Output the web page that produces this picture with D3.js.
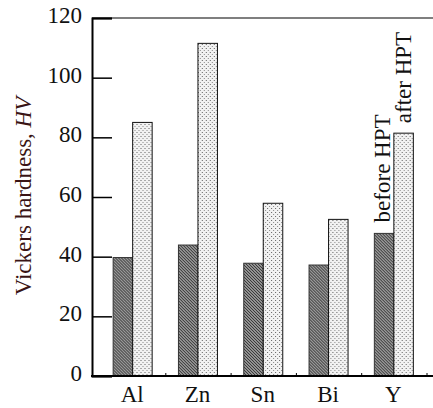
<!DOCTYPE html>
<html>
<head>
<meta charset="utf-8">
<script src="https://cdn.jsdelivr.net/npm/d3@7"></script>
<style>
  body { margin: 0; background: #fff; }
</style>
</head>
<body>
<div id="chart"></div>
<script>
const metals = ["Al", "Zn", "Sn", "Bi", "Y"];
const beforeHPT = [39.7, 43.9, 37.8, 37.2, 47.8];
const afterHPT = [85.0, 111.5, 57.9, 52.5, 81.4];
const yTicks = [0, 20, 40, 60, 80, 100, 120];

const width = 433, height = 408;
const margin = {left: 92, top: 18, bottom: 32};
const serif = "'Times New Roman', 'Liberation Serif', Times, serif";

const svg = d3.select("#chart")
    .append("svg")
    .attr("width", width)
    .attr("height", height)
    .style("font-family", serif);

const defs = svg.append("defs");

// diagonal hatch for "before"
const hatch = defs.append("pattern")
    .attr("id", "hatch")
    .attr("patternUnits", "userSpaceOnUse")
    .attr("width", 3)
    .attr("height", 3);
hatch.append("rect").attr("width", 3).attr("height", 3).attr("fill", "#c8c8c8");
hatch.append("path")
    .attr("d", "M-1,-1 L4,4 M-1,2 L1,4 M2,-1 L4,1")
    .attr("stroke", "#2a2a2a")
    .attr("stroke-width", 1.2);

// dots for "after"
const dots = defs.append("pattern")
    .attr("id", "dots")
    .attr("patternUnits", "userSpaceOnUse")
    .attr("width", 4)
    .attr("height", 4);
dots.append("rect").attr("width", 4).attr("height", 4).attr("fill", "#f2f2f2");
dots.append("rect").attr("x", 0).attr("y", 0).attr("width", 1).attr("height", 1).attr("fill", "#606060");
dots.append("rect").attr("x", 2).attr("y", 2).attr("width", 1).attr("height", 1).attr("fill", "#888");

const y = d3.scaleLinear()
    .domain([0, 120])
    .range([376, margin.top]);

const x = d3.scaleBand()
    .domain(metals)
    .range([100.5, 427]);

const x1 = d3.scaleBand()
    .domain(["before", "after"])
    .range([x.bandwidth() / 2 - 20, x.bandwidth() / 2 + 19]);

// top frame line
svg.append("line")
    .attr("x1", margin.left).attr("x2", width + 5)
    .attr("y1", y(120)).attr("y2", y(120))
    .attr("stroke", "#555").attr("stroke-width", 1.5);

// bars
const data = metals.map((m, i) => ({name: m, before: beforeHPT[i], after: afterHPT[i]}));

const groups = svg.append("g")
    .selectAll("g")
    .data(data)
    .join("g")
    .attr("transform", d => "translate(" + x(d.name) + ",0)");

groups.append("rect")
    .attr("x", x1("before"))
    .attr("y", d => y(d.before))
    .attr("width", x1.bandwidth())
    .attr("height", d => y(0) - y(d.before))
    .attr("fill", "url(#hatch)")
    .attr("stroke", "#333")
    .attr("stroke-width", 1);

groups.append("rect")
    .attr("x", x1("after"))
    .attr("y", d => y(d.after))
    .attr("width", x1.bandwidth())
    .attr("height", d => y(0) - y(d.after))
    .attr("fill", "url(#dots)")
    .attr("stroke", "#111")
    .attr("stroke-width", 1);

// y axis, ticks pointing inward
const yAxis = svg.append("g")
    .attr("transform", "translate(" + margin.left + ",0)")
    .call(d3.axisRight(y).tickValues(yTicks).tickSize(20).tickFormat(""));
yAxis.select(".domain").attr("stroke", "#000").attr("stroke-width", 2);
yAxis.selectAll(".tick line").attr("stroke", "#000").attr("stroke-width", 1.5);

svg.append("g")
    .selectAll("text")
    .data(yTicks)
    .join("text")
    .attr("x", 82)
    .attr("y", d => y(d) + 5)
    .attr("text-anchor", "end")
    .attr("font-size", 23)
    .attr("fill", "#111")
    .text(d => d);

// x axis
const xAxis = svg.append("g")
    .attr("transform", "translate(0," + y(0) + ")");
xAxis.append("line")
    .attr("x1", margin.left - 1).attr("x2", width + 5)
    .attr("stroke", "#000").attr("stroke-width", 2);
xAxis.selectAll(".xt")
    .data(metals)
    .join("line")
    .attr("class", "xt")
    .attr("x1", d => x(d) + x.bandwidth())
    .attr("x2", d => x(d) + x.bandwidth())
    .attr("y1", 0).attr("y2", -3)
    .attr("stroke", "#000").attr("stroke-width", 1);
xAxis.selectAll("text")
    .data(metals)
    .join("text")
    .attr("x", d => x(d) + x.bandwidth() / 2 - 1)
    .attr("y", 26)
    .attr("text-anchor", "middle")
    .attr("font-size", 23)
    .attr("fill", "#111")
    .text(d => d);

// y label
const ylab = svg.append("text")
    .attr("transform", "translate(31,196) rotate(-90)")
    .attr("text-anchor", "middle")
    .attr("font-size", 23)
    .attr("fill", "#3a1414");
ylab.append("tspan").text("Vickers hardness, ");
ylab.append("tspan").attr("font-style", "italic").text("HV");

// series labels above the Y bars
const last = data[data.length - 1];
svg.append("text")
    .attr("transform", "translate(" + (x(last.name) + x1("before") + x1.bandwidth() / 2 + 6) + "," + (y(last.before) - 11) + ") rotate(-90)")
    .attr("font-size", 23)
    .attr("fill", "#111")
    .text("before HPT");
svg.append("text")
    .attr("transform", "translate(" + (x(last.name) + x1("after") + x1.bandwidth() / 2 + 7) + "," + (y(last.after) - 10) + ") rotate(-90)")
    .attr("font-size", 23)
    .attr("fill", "#111")
    .text("after HPT");
</script>
</body>
</html>
